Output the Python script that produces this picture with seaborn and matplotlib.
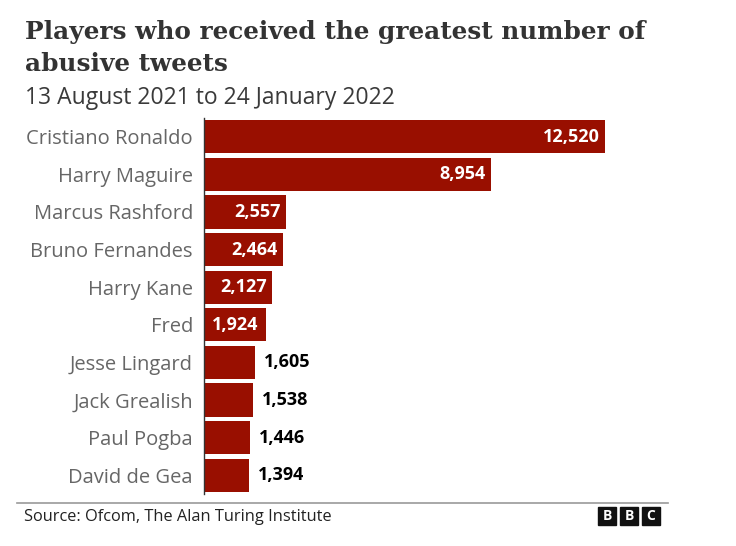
import numpy as np
import pandas as pd
import seaborn as sns
import matplotlib.pyplot as plt
from matplotlib.patches import Rectangle

fontsize = 14.5
params = {
    'font.family': ['Open Sans', 'DejaVu Sans'],
    'ytick.labelsize': fontsize,
}
plt.rcParams.update(params)

players = ['Cristiano Ronaldo', 'Harry Maguire', 'Marcus Rashford', 'Bruno Fernandes', 'Harry Kane',
           'Fred', 'Jesse Lingard', 'Jack Grealish', 'Paul Pogba', 'David de Gea']
tweets = [12520, 8954, 2557, 2464, 2127, 1924, 1605, 1538, 1446, 1394]
bbc_letters = ['B', 'B', 'C']

df = pd.DataFrame({'player': players, 'tweets': tweets})

fig = plt.figure(figsize=(7.36, 5.46), dpi=100)
ax = fig.add_axes([204 / 736, 1 - 494 / 546, 420 / 736, 376 / 546])

# Bars
sns.barplot(data=df, x='tweets', y='player', color='#990f00', saturation=1, width=0.88, ax=ax)
ax.set_xlim(0, 13120)
ax.set_ylim(9.5, -0.5)
ax.set_xlabel('')
ax.set_ylabel('')
ax.set_xticks([])
ax.tick_params(axis='y', length=0, pad=8, labelcolor='#666666')
for side in ['top', 'right', 'bottom']:
    ax.spines[side].set_visible(False)
ax.spines['left'].set_color('#333333')
ax.spines['left'].set_linewidth(1)

# Value labels, inside the long bars and outside the short ones
for i, value in enumerate(tweets):
    if value > 1924:
        ax.annotate(f'{value:,}', (value, i), xytext=(-3.6, 0), textcoords='offset points', ha='right', va='center',
                    color='white', fontsize=13, fontweight='bold')
    elif value == 1924:
        ax.annotate(f'{value:,}', (value, i), xytext=(-5, 0), textcoords='offset points', ha='right', va='center',
                    color='white', fontsize=13, fontweight='bold')
    else:
        ax.annotate(f'{value:,}', (value, i), xytext=(6.5, 0), textcoords='offset points', ha='left', va='center',
                    color='black', fontsize=13, fontweight='bold')

# Title block
fig.text(25 / 736, 1 - 39 / 546, 'Players who received the greatest number of', fontsize=17.8, fontweight='bold',
         family=['DejaVu Serif'], color='#333333')
fig.text(25 / 736, 1 - 71 / 546, 'abusive tweets', fontsize=17.8, fontweight='bold',
         family=['DejaVu Serif'], color='#333333')
fig.text(25 / 736, 1 - 104 / 546, '13 August 2021 to 24 January 2022', fontsize=16.5, color='#3a3a3a')

# Footer
fig.add_artist(plt.Line2D([17 / 736, 668 / 736], [1 - 503 / 546, 1 - 503 / 546], color='#999999', lw=1.2))
fig.text(24 / 736, 1 - 521 / 546, 'Source: Ofcom, The Alan Turing Institute', fontsize=11.8, color='#222222')
for i, letter in enumerate(bbc_letters):
    x0 = (598 + i * 22) / 736
    fig.add_artist(Rectangle((x0, 1 - 525 / 546), 18 / 736, 18 / 546, transform=fig.transFigure, color='#111111'))
    fig.text(x0 + 9 / 736, 1 - 516 / 546, letter, fontsize=10, fontweight='bold', color='white', ha='center', va='center')

plt.savefig('out.png', dpi=100)
